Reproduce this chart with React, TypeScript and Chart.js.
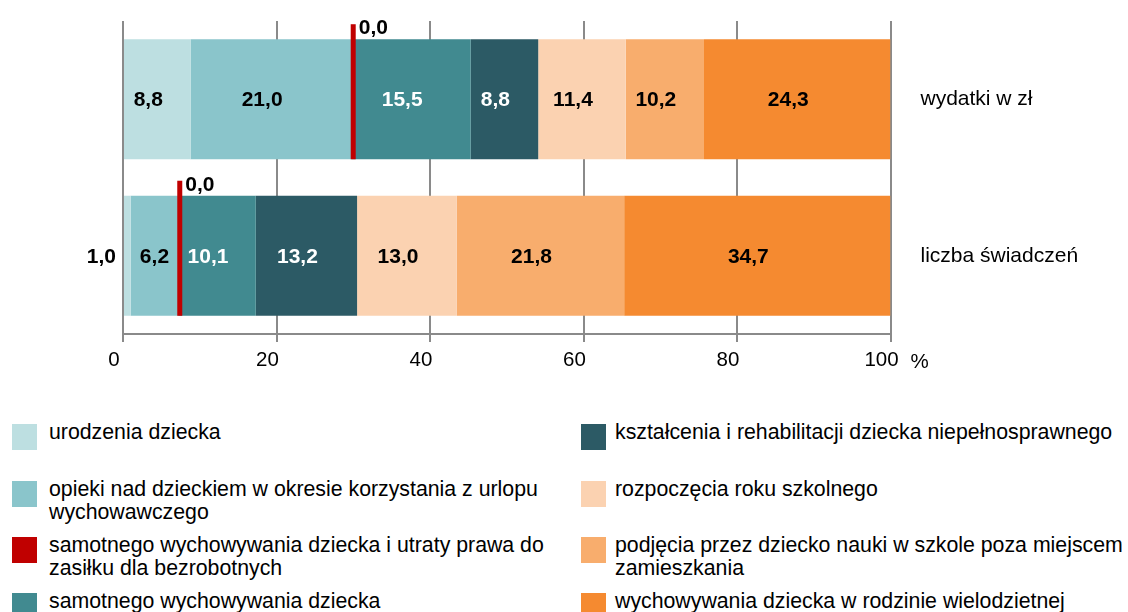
import React, { useEffect, useRef } from "react";
import { Chart, registerables } from "chart.js";

Chart.register(...registerables);

const categories = ["wydatki w zł", "liczba świadczeń"];
const seriesLabels = [
  "urodzenia dziecka",
  "opieki nad dzieckiem w okresie korzystania z urlopu\nwychowawczego",
  "samotnego wychowywania dziecka i utraty prawa do\nzasiłku dla bezrobotnych",
  "samotnego wychowywania dziecka",
  "kształcenia i rehabilitacji dziecka niepełnosprawnego",
  "rozpoczęcia roku szkolnego",
  "podjęcia przez dziecko nauki w szkole poza miejscem\nzamieszkania",
  "wychowywania dziecka w rodzinie wielodzietnej",
];
const urodzenia = [8.8, 1.0];
const opieki = [21.0, 6.2];
const samotnegoUtraty = [0.0, 0.0];
const samotnego = [15.5, 10.1];
const ksztalcenia = [8.8, 13.2];
const rozpoczecia = [11.4, 13.0];
const podjecia = [10.2, 21.8];
const wielodzietnej = [24.3, 34.7];
const seriesValues = [urodzenia, opieki, samotnegoUtraty, samotnego, ksztalcenia, rozpoczecia, podjecia, wielodzietnej];
const colors = ["#bddfe1", "#8ac5cb", "#c00000", "#418a90", "#2c5a65", "#fbd2b1", "#f8ad6d", "#f58a30"];
const labelColors = ["#000", "#000", "#000", "#fff", "#fff", "#000", "#000", "#000"];
const LINE_INDEX = 2;
const FONT = '"Liberation Sans", Arial, sans-serif';

const fmt = (v: number) => v.toFixed(1).replace(".", ",");

const labelsPlugin = {
  id: "segLabels",
  afterDatasetsDraw(chart: any) {
    const ctx = chart.ctx;
    ctx.save();
    ctx.font = `bold 21px ${FONT}`;
    chart.data.datasets.forEach((ds: any, di: number) => {
      const meta = chart.getDatasetMeta(di);
      meta.data.forEach((el: any, i: number) => {
        const v = ds.data[i];
        const top = el.y - el.height / 2;
        const bottom = el.y + el.height / 2;
        if (di === LINE_INDEX) {
          ctx.fillStyle = colors[di];
          ctx.fillRect(el.x - 1, top - 15, 5, bottom - top + 15);
          ctx.fillStyle = "#000";
          ctx.textAlign = "left";
          ctx.textBaseline = "alphabetic";
          ctx.fillText(fmt(v), el.x + 7, top - 5);
          return;
        }
        const text = fmt(v);
        const w = ctx.measureText(text).width;
        const segW = Math.abs(el.x - el.base);
        ctx.textBaseline = "middle";
        if (segW < w + 4) {
          ctx.fillStyle = "#000";
          ctx.textAlign = "right";
          ctx.fillText(text, Math.min(el.x, el.base) - 8, el.y + 1);
        } else {
          const shift = segW < 55 ? 0 : -9;
          ctx.fillStyle = labelColors[di];
          ctx.textAlign = "center";
          ctx.fillText(text, (el.x + el.base) / 2 + shift, el.y + 1);
        }
      });
    });
    const xs = chart.scales.x;
    ctx.font = `20.5px ${FONT}`;
    ctx.fillStyle = "#000";
    ctx.textAlign = "left";
    ctx.textBaseline = "alphabetic";
    ctx.fillText("%", xs.getPixelForValue(100) + 20, 367.5);
    ctx.restore();
  },
};

export default function App() {
  const ref = useRef<HTMLCanvasElement | null>(null);
  useEffect(() => {
    document.body.style.margin = "0";
    const chart = new Chart(ref.current as HTMLCanvasElement, {
      type: "bar",
      data: {
        labels: categories,
        datasets: seriesValues.map((vals, i) => ({
          label: seriesLabels[i],
          data: vals,
          backgroundColor: colors[i],
          borderWidth: 0,
          barPercentage: 0.767,
          categoryPercentage: 1,
        })),
      },
      options: {
        indexAxis: "y",
        responsive: false,
        animation: false,
        layout: { padding: { top: 21, left: 123, right: 0, bottom: 0 } },
        plugins: { legend: { display: false }, tooltip: { enabled: false } },
        scales: {
          x: {
            stacked: true,
            min: 0,
            max: 100,
            ticks: {
              stepSize: 20,
              color: "#000",
              font: { family: FONT, size: 20.5 },
              padding: 6,
              labelOffset: -9,
            },
            grid: { color: "#8a8a8a", lineWidth: 2, tickLength: 8, drawTicks: true },
            border: { color: "#8a8a8a", width: 2 },
            afterFit: (s: any) => {
              s.height = 66;
            },
          },
          y: {
            stacked: true,
            position: "right",
            ticks: { color: "#000", font: { family: FONT, size: 21 }, padding: 30 },
            grid: { display: false, drawTicks: false },
            border: { display: false },
            afterFit: (s: any) => {
              s.width = 1128 - 890.5;
              s.paddingTop = 0;
              s.paddingBottom = 0;
            },
          },
        },
      } as any,
      plugins: [labelsPlugin],
    });
    return () => chart.destroy();
  }, []);

  const rowTops = [424, 481, 537, 593];
  return (
    <div style={{ position: "relative", width: 1128, height: 612, overflow: "hidden", background: "#fff" }}>
      <canvas ref={ref} width={1128} height={400} style={{ position: "absolute", left: 0, top: 0 }} />
      {seriesLabels.map((lab, i) => {
        const col = i < 4 ? 0 : 1;
        const row = i % 4;
        const sqLeft = col === 0 ? 12 : 581;
        const txtLeft = col === 0 ? 49 : 615;
        const top = rowTops[row];
        return (
          <React.Fragment key={i}>
            <div
              style={{
                position: "absolute",
                left: sqLeft,
                top: top,
                width: 25,
                height: 26,
                background: colors[i],
              }}
            />
            <div
              style={{
                position: "absolute",
                left: txtLeft,
                top: top - 3,
                whiteSpace: "pre",
                fontFamily: FONT,
                fontSize: 21.3,
                lineHeight: "23px",
                color: "#000",
              }}
            >
              {lab}
            </div>
          </React.Fragment>
        );
      })}
    </div>
  );
}
